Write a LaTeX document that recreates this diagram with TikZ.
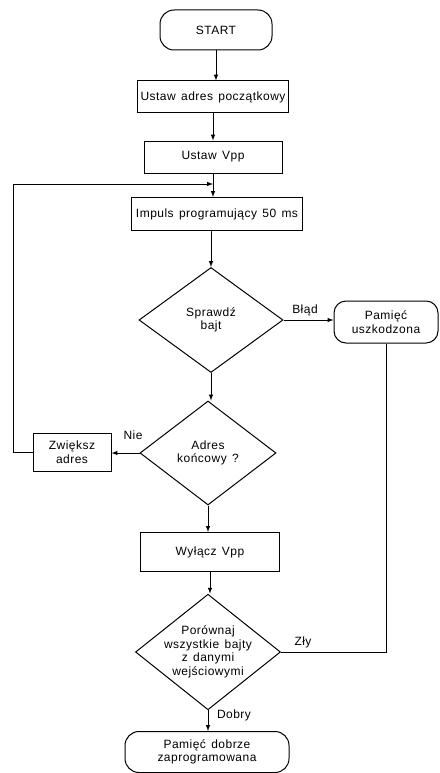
\documentclass[tikz,border=0pt]{standalone}
\usepackage{fontspec}
\setmainfont{Liberation Sans}[LetterSpace=4,WordSpace=1.4]
\usetikzlibrary{arrows,shapes.geometric}
\tikzset{
  blok/.style={draw,line width=1pt,rectangle,align=center,inner sep=0pt},
  term/.style={blok,rounded corners=14pt},
  decyzja/.style={draw,line width=1pt,diamond,align=center,inner sep=-6pt},
  opis/.style={inner sep=1pt},
  linia/.style={line width=1pt,-latex}
}
\begin{document}
\begin{tikzpicture}[x=1pt,y=-1pt,font=\fontsize{12}{13.5}\selectfont]
\useasboundingbox (0,0) rectangle (439,773);
\node[term,minimum width=112pt,minimum height=40pt](start)at(216,30){START};
\node[blok,minimum width=151pt,minimum height=32pt](init)at(213,97){Ustaw adres początkowy};
\node[blok,minimum width=138pt,minimum height=32pt](vpp)at(213,157){Ustaw Vpp};
\node[blok,minimum width=171pt,minimum height=33pt](pulse)at(217,214){Impuls programujący 50 ms};
\node[decyzja,minimum width=144pt,minimum height=105pt](check)at(211,320){Sprawdź\\bajt};
\node[term,rounded corners=12pt,minimum width=104pt,minimum height=42pt](bad)at(386,322){Pamięć\\uszkodzona};
\node[decyzja,minimum width=136pt,minimum height=104pt](last)at(208,453){Adres\\końcowy ?};
\node[blok,minimum width=78pt,minimum height=38pt](inc)at(72,452){Zwiększ\\adres};
\node[blok,minimum width=139pt,minimum height=39pt](off)at(210,552){Wyłącz Vpp};
\node[decyzja,minimum width=145pt,minimum height=103pt](cmp)at(208,652){Porównaj\\wszystkie bajty\\z danymi\\wejściowymi};
\node[term,minimum width=164pt,minimum height=41pt](good)at(207,752){Pamięć dobrze\\zaprogramowana};
\coordinate (join) at (213,184);
\coordinate (loop) at (13,184);
%connectors
\draw[linia](start)--(start |- init.north);
\draw[linia](init)--(init |- vpp.north);
\draw[linia](vpp)--(vpp |- pulse.north);
\draw[linia](pulse)--(pulse.south -| check)--(check.north);
\draw[linia](check.east)--(check.east -| bad.west);
\draw[linia](check)--(check |- last.north);
\draw[linia](last.west)--(last.west -| inc.east);
\draw[linia](inc.west)-|(loop)--(join);
\draw[linia](last)--(last |- off.north);
\draw[linia](off)--(off |- cmp.north);
\draw[line width=1pt](cmp.east)-|(bad.south);
\draw[linia](cmp)--(cmp |- good.north);
%labels
\node[opis](lblad)at(305,310){Błąd};
\node[opis](lnie)at(133,435){Nie};
\node[opis](lzly)at(303,642){Zły};
\node[opis](ldobry)at(234,715){Dobry};
\end{tikzpicture}
\end{document}
